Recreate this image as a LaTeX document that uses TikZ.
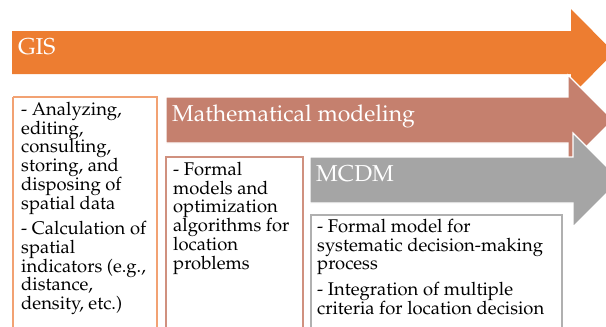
\documentclass[tikz,border=0pt]{standalone}
\IfFileExists{mathpazo.sty}{\usepackage[T1]{fontenc}\usepackage{mathpazo}}{\usepackage{fontspec}\setmainfont{Liberation Serif}}
\definecolor{gisc}{HTML}{ED7D31}
\definecolor{mathc}{HTML}{C5806E}
\definecolor{mcdmc}{HTML}{A5A5A5}
\definecolor{gisb}{HTML}{F2A273}
\definecolor{mathb}{HTML}{D0917F}
\definecolor{mcdmb}{HTML}{B0B0B0}
\tikzset{
  arrowshape/.style={draw=white, line width=1.2pt, line join=miter},
  titletext/.style={anchor=base west, text=white, font=\fontsize{23}{25}\selectfont, inner sep=0pt},
  boxtext/.style={anchor=north west, align=left, font=\fontsize{18.4}{18.7}\selectfont, inner sep=0pt},
  textbox/.style={line width=1.3pt}
}
\begin{document}
\begin{tikzpicture}[x=1pt,y=-1pt]
\useasboundingbox (0,0) rectangle (606,327);
\clip (0,0) rectangle (606,327);
% GIS arrow
\fill[gisc] (12,31) -- (571,31) -- (571,9) -- (614,52.5) -- (571,96) -- (571,74) -- (12,74) -- cycle;
% left box
\draw[textbox, draw=gisb] (13,97) -- (13,340) (157,340) -- (157,97) -- (13,97);
% Math arrow
\filldraw[arrowshape, fill=mathc] (166,97) -- (568,97) -- (568,75) -- (613,120) -- (568,165) -- (568,143) -- (166,143) -- cycle;
% Math box
\draw[textbox, draw=mathb] (166,340) -- (166,157) -- (303,157) -- (303,340);
% MCDM arrow
\filldraw[arrowshape, fill=mcdmc] (310,157) -- (573,157) -- (573,133) -- (620,180) -- (573,227) -- (573,203) -- (310,203) -- cycle;
% MCDM box
\draw[textbox, draw=mcdmb] (311,340) -- (311,215) -- (562,215) -- (562,340);
% titles
\node[titletext] (tgis) at (18,54) {GIS};
\node[titletext] (tmath) at (172,121) {Mathematical modeling};
\node[titletext] (tmcdm) at (316,181) {MCDM};
% texts
\node[boxtext] (xgis) at (21,102) {- Analyzing,\\ editing,\\ consulting,\\ storing, and\\ disposing of\\ spatial data\\[7pt] - Calculation of\\ spatial\\ indicators (e.g.,\\ distance,\\ density, etc.)};
\node[boxtext] (xmath) at (173,162) {- Formal\\ models and\\ optimization\\ algorithms for\\ location\\ problems};
\node[boxtext] (xmcdm) at (317,219) {- Formal model for\\ systematic decision-making\\ process\\[7pt] - Integration of multiple\\ criteria for location decision};
\end{tikzpicture}
\end{document}
